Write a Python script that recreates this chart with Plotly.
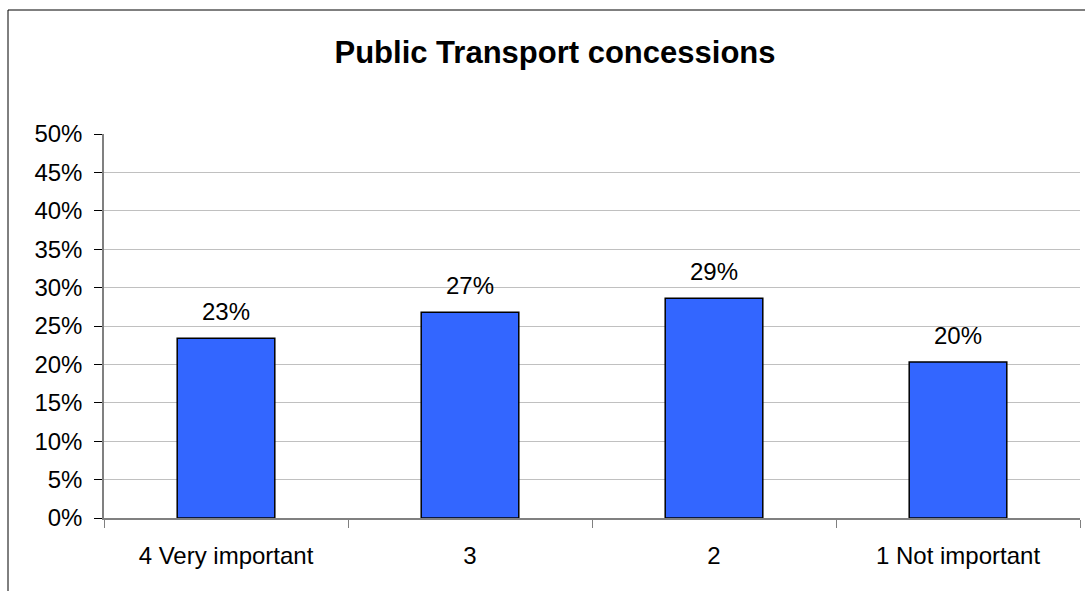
import plotly.graph_objects as go

# Survey responses: importance of public transport concessions
categories = ["4 Very important", "3", "2", "1 Not important"]
shares = [0.234, 0.268, 0.286, 0.203]
y_ticks = [0, 0.05, 0.10, 0.15, 0.20, 0.25, 0.30, 0.35, 0.40, 0.45, 0.50]

W, H = 1085, 591
L, R, T, B = 104, 5, 134, 73
plot_w = W - L - R
plot_h = H - T - B
FONT = "Liberation Sans, Arial, sans-serif"

fig = go.Figure(
    go.Bar(
        x=categories,
        y=shares,
        width=0.4,
        marker=dict(color="#3366FF", line=dict(color="#000000", width=1.5)),
        hoverinfo="skip",
    )
)

# Value labels above each bar, formatted from the same values
for i, v in enumerate(shares):
    fig.add_annotation(
        x=i, y=v, xref="x", yref="y",
        text=f"{v:.0%}", showarrow=False,
        yanchor="bottom", yshift=11,
        font=dict(family=FONT, size=24, color="#000000"),
    )

# Outer chart frame (top and left edges visible, rest runs off the canvas)
fig.add_shape(
    type="rect", xref="paper", yref="paper",
    x0=(8 - L) / plot_w, x1=(W + 20 - L) / plot_w,
    y0=-(B + 20) / plot_h, y1=(H - B - 10) / plot_h,
    line=dict(color="#000000", width=1), fillcolor="rgba(0,0,0,0)", layer="below",
)

fig.update_layout(
    width=W, height=H,
    margin=dict(l=L, r=R, t=T, b=B),
    paper_bgcolor="white", plot_bgcolor="white",
    showlegend=False,
    title=dict(
        text="<b>Public Transport concessions</b>",
        x=555 / W, xanchor="center",
        y=1 - 52 / H, yanchor="middle",
        font=dict(family=FONT, size=31, color="#000000"),
    ),
    font=dict(family=FONT, size=24, color="#000000"),
)

fig.update_xaxes(
    type="category",
    showline=True, linecolor="#808080", linewidth=1.5,
    ticks="outside", tickson="boundaries", ticklen=8, tickcolor="#808080", tickwidth=1,
    showgrid=False,
    tickfont=dict(size=24, color="#000000"),
    ticklabelstandoff=15,
)

fig.update_yaxes(
    range=[0, 0.5],
    tickvals=y_ticks, tickformat=".0%",
    showline=True, linecolor="#808080", linewidth=1.5,
    ticks="outside", ticklen=8, tickcolor="#000000", tickwidth=1,
    showgrid=True, gridcolor="#c0c0c0", gridwidth=1,
    zeroline=False,
    tickfont=dict(size=24, color="#000000"),
    ticklabelstandoff=7,
)

fig.write_html("out.html")
